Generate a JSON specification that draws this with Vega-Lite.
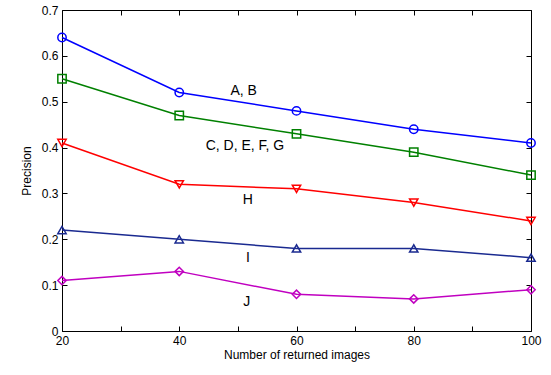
{
  "$schema": "https://vega.github.io/schema/vega-lite/v6.json",
  "width": 469,
  "height": 321,
  "autosize": {"type": "none"},
  "padding": {"left": 62, "top": 10, "right": 20, "bottom": 44},
  "background": "white",
  "config": {
    "font": "Liberation Sans",
    "view": {"stroke": "black", "strokeWidth": 1},
    "axis": {"grid": false, "domain": false, "labelColor": "black", "titleColor": "black", "labelFontSize": 12, "titleFontSize": 12, "titleFontWeight": "normal", "labelFlush": false}
  },
  "datasets": {
    "pts": [
      {"n": 20, "p": 0.64, "s": "AB"}, {"n": 40, "p": 0.52, "s": "AB"}, {"n": 60, "p": 0.48, "s": "AB"}, {"n": 80, "p": 0.44, "s": "AB"}, {"n": 100, "p": 0.41, "s": "AB"},
      {"n": 20, "p": 0.55, "s": "CG"}, {"n": 40, "p": 0.47, "s": "CG"}, {"n": 60, "p": 0.43, "s": "CG"}, {"n": 80, "p": 0.39, "s": "CG"}, {"n": 100, "p": 0.34, "s": "CG"},
      {"n": 20, "p": 0.41, "s": "H"}, {"n": 40, "p": 0.32, "s": "H"}, {"n": 60, "p": 0.31, "s": "H"}, {"n": 80, "p": 0.28, "s": "H"}, {"n": 100, "p": 0.24, "s": "H"},
      {"n": 20, "p": 0.22, "s": "I"}, {"n": 40, "p": 0.20, "s": "I"}, {"n": 60, "p": 0.18, "s": "I"}, {"n": 80, "p": 0.18, "s": "I"}, {"n": 100, "p": 0.16, "s": "I"},
      {"n": 20, "p": 0.11, "s": "J"}, {"n": 40, "p": 0.13, "s": "J"}, {"n": 60, "p": 0.08, "s": "J"}, {"n": 80, "p": 0.07, "s": "J"}, {"n": 100, "p": 0.09, "s": "J"}
    ],
    "labels": [
      {"n": 51.0, "p": 0.523, "t": "A, B"},
      {"n": 51.2, "p": 0.403, "t": "C, D, E, F, G"},
      {"n": 51.7, "p": 0.286, "t": "H"},
      {"n": 51.7, "p": 0.159, "t": "I"},
      {"n": 51.5, "p": 0.063, "t": "J"}
    ]
  },
  "layer": [
    {
      "data": {"name": "pts"},
      "mark": {"type": "line", "strokeWidth": 1.5},
      "encoding": {
        "x": {"field": "n", "type": "quantitative", "scale": {"domain": [20, 100], "nice": false},
              "axis": {"orient": "bottom", "offset": -5, "ticks": true, "tickSize": 5, "tickColor": "#000000", "tickWidth": 1, "tickOpacity": 1, "values": [20, 30, 40, 50, 60, 70, 80, 90, 100], "labelExpr": "datum.value % 20 == 0 ? datum.label : ''", "title": "Number of returned images", "titlePadding": 3, "labelPadding": 4}},
        "y": {"field": "p", "type": "quantitative", "scale": {"domain": [0, 0.7], "nice": false},
              "axis": {"orient": "left", "offset": -5, "ticks": true, "tickSize": 5, "tickColor": "#000000", "tickWidth": 1, "tickOpacity": 1, "values": [0, 0.1, 0.2, 0.3, 0.4, 0.5, 0.6, 0.7], "format": ".1~f", "title": "Precision", "titlePadding": 8, "labelPadding": 4}},
        "color": {"field": "s", "type": "nominal", "legend": null,
                  "scale": {"domain": ["AB", "CG", "H", "I", "J"], "range": ["#0000ff", "#008000", "#ff0000", "#1a2a90", "#c000c0"]}}
      }
    },
    {
      "data": {"name": "pts"},
      "mark": {"type": "point", "filled": false, "strokeWidth": 1.5, "size": 70, "opacity": 1},
      "encoding": {
        "x": {"field": "n", "type": "quantitative", "axis": null},
        "y": {"field": "p", "type": "quantitative", "axis": null},
        "color": {"field": "s", "type": "nominal", "legend": null},
        "shape": {"field": "s", "type": "nominal", "legend": null,
                  "scale": {"domain": ["AB", "CG", "H", "I", "J"], "range": ["circle", "square", "triangle-down", "triangle-up", "diamond"]}}
      }
    },
    {
      "data": {"name": "labels"},
      "mark": {"type": "text", "fontSize": 14, "color": "black"},
      "encoding": {
        "x": {"field": "n", "type": "quantitative",
              "axis": {"orient": "top", "offset": -5, "ticks": true, "tickSize": 5, "tickColor": "#000000", "tickWidth": 1, "tickOpacity": 1, "values": [20, 30, 40, 50, 60, 70, 80, 90, 100], "labels": false, "title": null}},
        "y": {"field": "p", "type": "quantitative",
              "axis": {"orient": "right", "offset": -5, "ticks": true, "tickSize": 5, "tickColor": "#000000", "tickWidth": 1, "tickOpacity": 1, "values": [0, 0.1, 0.2, 0.3, 0.4, 0.5, 0.6, 0.7], "labels": false, "title": null}},
        "text": {"field": "t", "type": "nominal"}
      }
    }
  ],
  "resolve": {"axis": {"x": "independent", "y": "independent"}}
}
